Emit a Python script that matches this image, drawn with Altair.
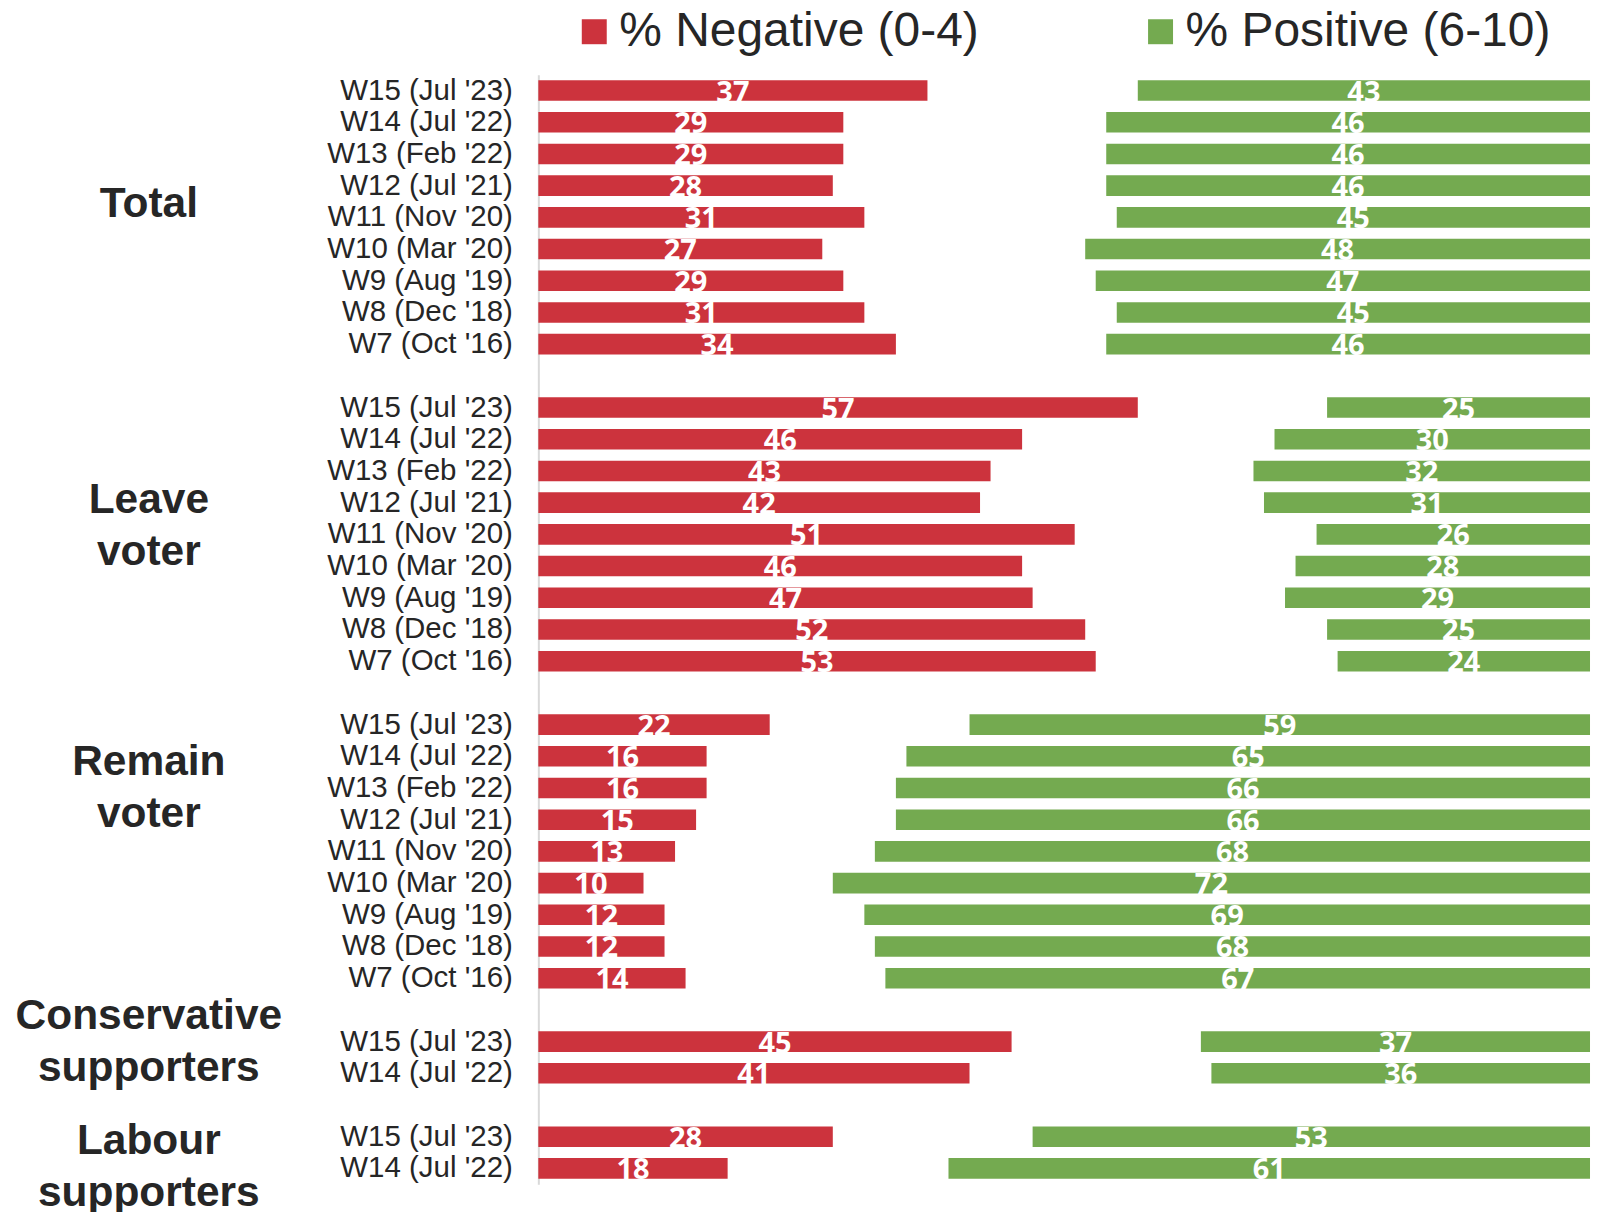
import altair as alt
import pandas as pd

waves9 = ["W15 (Jul '23)", "W14 (Jul '22)", "W13 (Feb '22)", "W12 (Jul '21)",
          "W11 (Nov '20)", "W10 (Mar '20)", "W9 (Aug '19)", "W8 (Dec '18)", "W7 (Oct '16)"]
waves2 = ["W15 (Jul '23)", "W14 (Jul '22)"]

groups = ["Total", "Leave voter", "Remain voter", "Conservative supporters", "Labour supporters"]
group_waves = [waves9, waves9, waves9, waves2, waves2]

total_neg = [37, 29, 29, 28, 31, 27, 29, 31, 34]
total_pos = [43, 46, 46, 46, 45, 48, 47, 45, 46]
leave_neg = [57, 46, 43, 42, 51, 46, 47, 52, 53]
leave_pos = [25, 30, 32, 31, 26, 28, 29, 25, 24]
remain_neg = [22, 16, 16, 15, 13, 10, 12, 12, 14]
remain_pos = [59, 65, 66, 66, 68, 72, 69, 68, 67]
con_neg = [45, 41]
con_pos = [37, 36]
lab_neg = [28, 18]
lab_pos = [53, 61]

neg_vals = [total_neg, leave_neg, remain_neg, con_neg, lab_neg]
pos_vals = [total_pos, leave_pos, remain_pos, con_pos, lab_pos]

# group label anchor (wave row) and vertical offset
group_anchor = ["W12 (Jul '21)", "W11 (Nov '20)", "W13 (Feb '22)", "W15 (Jul '23)", "W14 (Jul '22)"]
group_dy = [18, -34, -26, -26, -27]
group_text = ["Total", "Leave\nvoter", "Remain\nvoter", "Conservative\nsupporters", "Labour\nsupporters"]

NEG = "% Negative (0-4)"
POS = "% Positive (6-10)"

domain = []
rows = []
for gi, (g, wv) in enumerate(zip(groups, group_waves)):
    if gi > 0:
        domain.append(f"gap{gi}")
    for i, w in enumerate(wv):
        key = f"{g}|{w}"
        domain.append(key)
        n = neg_vals[gi][i]
        p = pos_vals[gi][i]
        rows.append({"key": key, "series": NEG, "x0": 0, "x1": n, "mid": n / 2, "val": n})
        rows.append({"key": key, "series": POS, "x0": 100 - p, "x1": 100, "mid": 100 - p / 2, "val": p})
df = pd.DataFrame(rows)

gdf = pd.DataFrame({
    "key": [f"{g}|{a}" for g, a in zip(groups, group_anchor)],
    "text": group_text,
    "dy": group_dy,
})

yscale = alt.Scale(domain=domain, paddingInner=0.35)
xscale = alt.Scale(domain=[0, 100], nice=False, zero=False)

bars = alt.Chart(df).mark_bar().encode(
    y=alt.Y("key:N", scale=yscale, sort=domain, title=None,
            axis=alt.Axis(labelExpr="indexof(datum.label,'|')>=0 ? split(datum.label,'|')[1] : ''",
                          ticks=False, domainColor="#D9D9D9", domainWidth=2,
                          labelFont="Liberation Sans", labelFontSize=29.5, labelColor="#262626",
                          labelPadding=26, labelLimit=400, grid=False)),
    x=alt.X("x0:Q", scale=xscale, axis=None),
    x2="x1:Q",
    color=alt.Color("series:N",
                    scale=alt.Scale(domain=[NEG, POS], range=["#CC333D", "#74AA50"]),
                    legend=alt.Legend(title=None, orient="none", direction="horizontal",
                                      legendX=32, legendY=-67, padding=0,
                                      symbolType="square", symbolSize=625, symbolStrokeWidth=0,
                                      symbolOpacity=1,
                                      labelFont="Liberation Sans", labelFontSize=48,
                                      labelColor="#262626", labelOffset=1, labelLimit=600,
                                      columnPadding=157)),
)

labels = alt.Chart(df).mark_text(font="Open Sans", fontWeight="bold", fontSize=29,
                                 color="white", baseline="middle", dy=2).encode(
    y=alt.Y("key:N", scale=yscale, sort=domain),
    x=alt.X("mid:Q", scale=xscale),
    text="val:Q",
)

glabels = []
for _, r in gdf.iterrows():
    glabels.append(
        alt.Chart(pd.DataFrame([r])).mark_text(
            font="Liberation Sans", fontWeight="bold", fontSize=42.5, color="#262626",
            align="center", baseline="middle", lineBreak="\n", lineHeight=52, dy=int(r["dy"])
        ).encode(
            y=alt.Y("key:N", scale=yscale, sort=domain),
            x=alt.value(-390),
            text="text:N",
        )
    )

chart = alt.layer(bars, labels, *glabels).properties(
    width=1053, height=1111,
    autosize=alt.AutoSizeParams(type="none"),
    padding={"left": 531, "top": 66, "right": 7, "bottom": 30},
).configure_view(stroke=None)

chart.save("out.html", embed_options={"renderer": "svg", "actions": False})
